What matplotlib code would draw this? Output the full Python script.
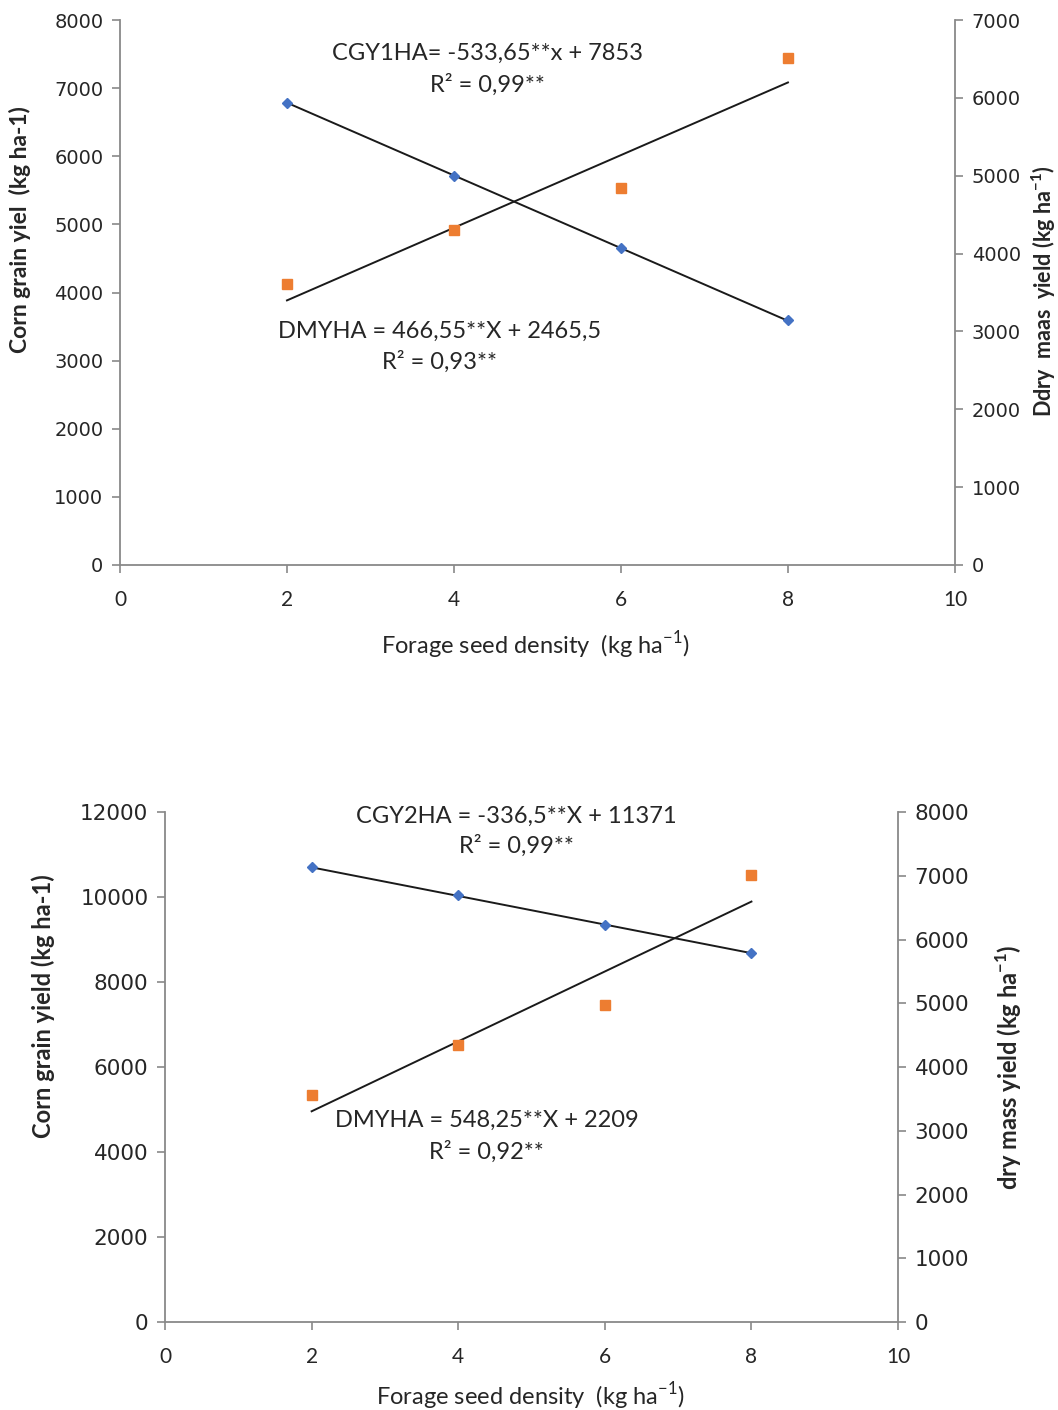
import matplotlib
matplotlib.use("Agg")
import matplotlib.pyplot as plt
import numpy as np

# Forage seed density (kg ha-1)
density = [2, 4, 6, 8]

# Panel 1: corn grain yield (left axis) and dry mass yield (right axis)
cgy1 = [6782, 5710, 4653, 3596]
dmy1 = [3609, 4303, 4842, 6512]
cgy1_fit = (-533.65, 7853)
dmy1_fit = (466.55, 2465.5)

# Panel 2
cgy2 = [10706, 10047, 9341, 8682]
dmy2 = [3561, 4345, 4973, 7012]
cgy2_fit = (-336.5, 11371)
dmy2_fit = (548.25, 2209)

x_ticks = [0, 2, 4, 6, 8, 10]

GRAY = "#898989"
BLUE = "#4472C4"
ORANGE = "#ED7D31"
TXT = "#262626"
EQ_FONT = ["Lato", "DejaVu Sans"]
TICK_FONT = ["DejaVu Sans"]

fig = plt.figure(figsize=(10.58, 14.10), dpi=100)


def style_axes(ax, ax2, ytick_size):
    for side in ("top", "right"):
        ax.spines[side].set_visible(False)
    for side in ("top", "left", "bottom"):
        ax2.spines[side].set_visible(False)
    for sp in (ax.spines["left"], ax.spines["bottom"], ax2.spines["right"]):
        sp.set_color(GRAY)
        sp.set_linewidth(1.3)
    ax.tick_params(axis="both", direction="out", length=6, width=1.2, color=GRAY,
                   labelcolor=TXT)
    ax2.tick_params(axis="y", direction="out", length=6, width=1.2, color=GRAY,
                    labelcolor=TXT)
    for lab in ax.get_yticklabels() + ax2.get_yticklabels():
        lab.set_fontfamily(TICK_FONT)
        lab.set_fontsize(ytick_size)
    for lab in ax.get_xticklabels():
        lab.set_fontfamily(EQ_FONT)
        lab.set_fontsize(15)
    ax.tick_params(axis="x", pad=12)
    ax.tick_params(axis="y", pad=6)
    ax2.tick_params(axis="y", pad=6)


def draw_panel(rect, cgy, dmy, cfit, dfit, ylim1, ystep1, ylim2, ystep2,
               ylabel, y2label, eqs, lab_pos, ytick_size, ylab_sizes):
    ax = fig.add_axes(rect)
    ax2 = ax.twinx()
    ax.set_xlim(0, 10)
    ax.set_ylim(*ylim1)
    ax2.set_ylim(*ylim2)
    ax.set_xticks(x_ticks)
    ax.set_yticks(np.arange(ylim1[0], ylim1[1] + 1, ystep1))
    ax2.set_yticks(np.arange(ylim2[0], ylim2[1] + 1, ystep2))

    xs = np.array([density[0], density[-1]], dtype=float)
    # Fitted lines from the stated regression coefficients
    ax.plot(xs, cfit[0] * xs + cfit[1], color="#1a1a1a", lw=1.4, zorder=3)
    ax2.plot(xs, dfit[0] * xs + dfit[1], color="#1a1a1a", lw=1.4, zorder=3)
    ax.plot(density, cgy, linestyle="none", marker="D", ms=5, color=BLUE,
            markeredgecolor=BLUE, zorder=4)
    ax2.plot(density, dmy, linestyle="none", marker="s", ms=7.5, color=ORANGE,
             markeredgecolor=ORANGE, zorder=4)

    style_axes(ax, ax2, ytick_size)

    ax.set_xlabel(r"Forage seed density  (kg ha$^{\mathregular{-1}}$)",
                  fontfamily=EQ_FONT, fontsize=17, color=TXT)
    ax.set_ylabel(ylabel, fontfamily=EQ_FONT, fontsize=ylab_sizes[0],
                  fontweight="bold", color=TXT)
    ax2.set_ylabel(y2label, fontfamily=EQ_FONT, fontsize=ylab_sizes[1],
                   fontweight="bold", color=TXT)
    ax.xaxis.set_label_coords(*lab_pos[0])
    ax.yaxis.set_label_coords(*lab_pos[1])
    ax2.yaxis.set_label_coords(*lab_pos[2])

    for (tx, ty, s) in eqs:
        ax.text(tx, ty, s, transform=ax.transAxes, ha="center", va="center",
                fontfamily=EQ_FONT, fontsize=17, color=TXT, zorder=5)
    return ax, ax2


draw_panel(
    [0.1134, 0.5993, 0.7892, 0.3865], cgy1, dmy1, cgy1_fit, dmy1_fit,
    (0, 8000), 1000, (0, 7000), 1000,
    "Corn grain yiel  (kg ha-1)",
    r"Ddry  maas  yield (kg ha$^{\mathregular{-1}}$)",
    [(0.44, 0.939, "CGY1HA= -533,65**x + 7853"),
     (0.44, 0.882, "R² = 0,99**"),
     (0.383, 0.429, "DMYHA = 466,55**X + 2465,5"),
     (0.383, 0.372, "R² = 0,93**")],
    [(0.497, -0.117), (-0.106, 0.615), (1.089, 0.503)],
    14, (16.5, 15.5),
)

draw_panel(
    [0.156, 0.0624, 0.6928, 0.3617], cgy2, dmy2, cgy2_fit, dmy2_fit,
    (0, 12000), 2000, (0, 8000), 1000,
    "Corn grain yield (kg ha-1)",
    r"dry mass yield (kg ha$^{\mathregular{-1}}$)",
    [(0.479, 0.992, "CGY2HA = -336,5**X + 11371"),
     (0.479, 0.933, "R² = 0,99**"),
     (0.439, 0.396, "DMYHA = 548,25**X + 2209"),
     (0.439, 0.333, "R² = 0,92**")],
    [(0.498, -0.113), (-0.150, 0.62), (1.13, 0.5)],
    15.5, (17, 17),
)

fig.savefig("out.png", dpi=100)
